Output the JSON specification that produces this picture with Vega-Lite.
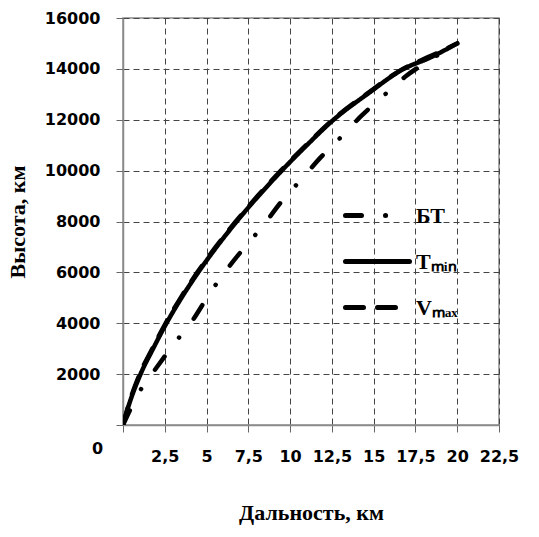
{
  "$schema": "https://vega.github.io/schema/vega-lite/v6.json",
  "width": 376,
  "height": 407,
  "autosize": {"type": "none"},
  "padding": {"left": 123, "top": 18, "right": 40, "bottom": 112},
  "background": "white",
  "config": {
    "view": {"stroke": "#8a8a8a", "strokeWidth": 1.5},
    "axis": {
      "grid": true,
      "gridDash": [6, 4],
      "gridColor": "#444444",
      "gridWidth": 1,
      "domainColor": "#8a8a8a",
      "domainWidth": 1.5,
      "tickColor": "#666666",
      "tickSize": 7,
      "labelFont": "DejaVu Sans",
      "labelFontWeight": "bold",
      "labelFontSize": 16,
      "labelColor": "black",
      "titleFont": "Liberation Serif",
      "titleFontWeight": "bold",
      "titleFontSize": 22,
      "titleColor": "black"
    }
  },
  "data": {
    "values": [
      {"series": "Tmin", "x": 0, "h": 0},
      {"series": "Tmin", "x": 0.3, "h": 680},
      {"series": "Tmin", "x": 1.05, "h": 2000},
      {"series": "Tmin", "x": 1.8, "h": 3000},
      {"series": "Tmin", "x": 2.6, "h": 4000},
      {"series": "Tmin", "x": 3.5, "h": 5000},
      {"series": "Tmin", "x": 4.5, "h": 6000},
      {"series": "Tmin", "x": 5.6, "h": 7000},
      {"series": "Tmin", "x": 6.8, "h": 8000},
      {"series": "Tmin", "x": 8.1, "h": 9000},
      {"series": "Tmin", "x": 9.5, "h": 10000},
      {"series": "Tmin", "x": 11.0, "h": 11000},
      {"series": "Tmin", "x": 12.6, "h": 12000},
      {"series": "Tmin", "x": 14.6, "h": 13000},
      {"series": "Tmin", "x": 16.8, "h": 14000},
      {"series": "Tmin", "x": 18.4, "h": 14450},
      {"series": "Tmin", "x": 20, "h": 15000},
      {"series": "Vmax", "x": 0, "h": 0},
      {"series": "Vmax", "x": 0.3, "h": 720},
      {"series": "Vmax", "x": 1.0, "h": 2000},
      {"series": "Vmax", "x": 1.75, "h": 3000},
      {"series": "Vmax", "x": 2.55, "h": 4000},
      {"series": "Vmax", "x": 3.45, "h": 5000},
      {"series": "Vmax", "x": 4.45, "h": 6000},
      {"series": "Vmax", "x": 5.55, "h": 7000},
      {"series": "Vmax", "x": 6.75, "h": 8000},
      {"series": "Vmax", "x": 8.05, "h": 9000},
      {"series": "Vmax", "x": 9.45, "h": 10000},
      {"series": "Vmax", "x": 10.95, "h": 11000},
      {"series": "Vmax", "x": 12.55, "h": 12000},
      {"series": "Vmax", "x": 14.55, "h": 13000},
      {"series": "Vmax", "x": 16.75, "h": 14000},
      {"series": "Vmax", "x": 18.4, "h": 14500},
      {"series": "Vmax", "x": 20, "h": 15000},
      {"series": "БТ", "x": 0, "h": 0},
      {"series": "БТ", "x": 0.97, "h": 1290},
      {"series": "БТ", "x": 2.0, "h": 2250},
      {"series": "БТ", "x": 3.07, "h": 3200},
      {"series": "БТ", "x": 4.2, "h": 4150},
      {"series": "БТ", "x": 5.15, "h": 5135},
      {"series": "БТ", "x": 6.15, "h": 6060},
      {"series": "БТ", "x": 7.3, "h": 7000},
      {"series": "БТ", "x": 8.4, "h": 7850},
      {"series": "БТ", "x": 9.47, "h": 8775},
      {"series": "БТ", "x": 10.65, "h": 9640},
      {"series": "БТ", "x": 11.8, "h": 10500},
      {"series": "БТ", "x": 13.05, "h": 11320},
      {"series": "БТ", "x": 14.26, "h": 12150},
      {"series": "БТ", "x": 15.6, "h": 12950},
      {"series": "БТ", "x": 16.9, "h": 13700},
      {"series": "БТ", "x": 18.5, "h": 14400},
      {"series": "БТ", "x": 20, "h": 15000}
    ]
  },
  "mark": {"type": "line", "color": "black", "strokeWidth": 4.5, "strokeCap": "round", "interpolate": "monotone", "clip": true},
  "encoding": {
    "x": {
      "field": "x",
      "type": "quantitative",
      "scale": {"domain": [0, 22.5], "nice": false, "zero": true},
      "axis": {
        "values": [0, 2.5, 5, 7.5, 10, 12.5, 15, 17.5, 20, 22.5],
        "format": ".1~f",
        "labelExpr": "replace(datum.label, '.', ',')",
        "labelPadding": 16,
        "labelOffset": {"condition": {"test": "datum.value == 0", "value": -26}, "value": 0},
        "labelBaseline": {"condition": {"test": "datum.value == 0", "value": "middle"}, "value": "top"},
        "labelFlush": false,
        "labelOverlap": false,
        "title": "Дальность, км",
        "titlePadding": 38
      }
    },
    "y": {
      "field": "h",
      "type": "quantitative",
      "scale": {"domain": [0, 16000], "nice": false},
      "axis": {
        "values": [0, 2000, 4000, 6000, 8000, 10000, 12000, 14000, 16000],
        "format": "d",
        "labelExpr": "datum.value == 0 ? '' : datum.label",
        "labelPadding": 16,
        "labelFlush": false,
        "labelOverlap": false,
        "title": "Высота, км",
        "titlePadding": 15
      }
    },
    "strokeDash": {
      "field": "series",
      "type": "nominal",
      "scale": {"domain": ["БТ", "Tmin", "Vmax"], "range": [[16, 24, 0.1, 24], [1, 0], [18, 14]]},
      "legend": {
        "title": null,
        "orient": "none",
        "legendX": 220,
        "legendY": 163,
        "symbolType": "stroke",
        "symbolSize": 4096,
        "symbolStrokeWidth": 5,
        "symbolStrokeColor": "black",
        "rowPadding": -9,
        "labelOffset": 4,
        "labelFont": "Liberation Serif",
        "labelFontWeight": "bold",
        "labelFontSize": 22,
        "labelColor": "black",
        "labelExpr": "datum.value == 'Tmin' ? 'Tₘᵢₙ' : datum.value == 'Vmax' ? 'Vₘₐₓ' : datum.value",
        "encode": {
          "symbols": {
            "enter": {
              "strokeCap": {"value": "round"}
            },
            "update": {
              "strokeCap": {"value": "round"},
              "strokeDash": [
                {"test": "datum.value == 'БТ'", "value": [17, 21, 0.1, 22, 0.1, 40]},
                {"test": "datum.value == 'Vmax'", "value": [20, 17]},
                {"value": [1, 0]}
              ]
            }
          }
        }
      }
    }
  }
}
